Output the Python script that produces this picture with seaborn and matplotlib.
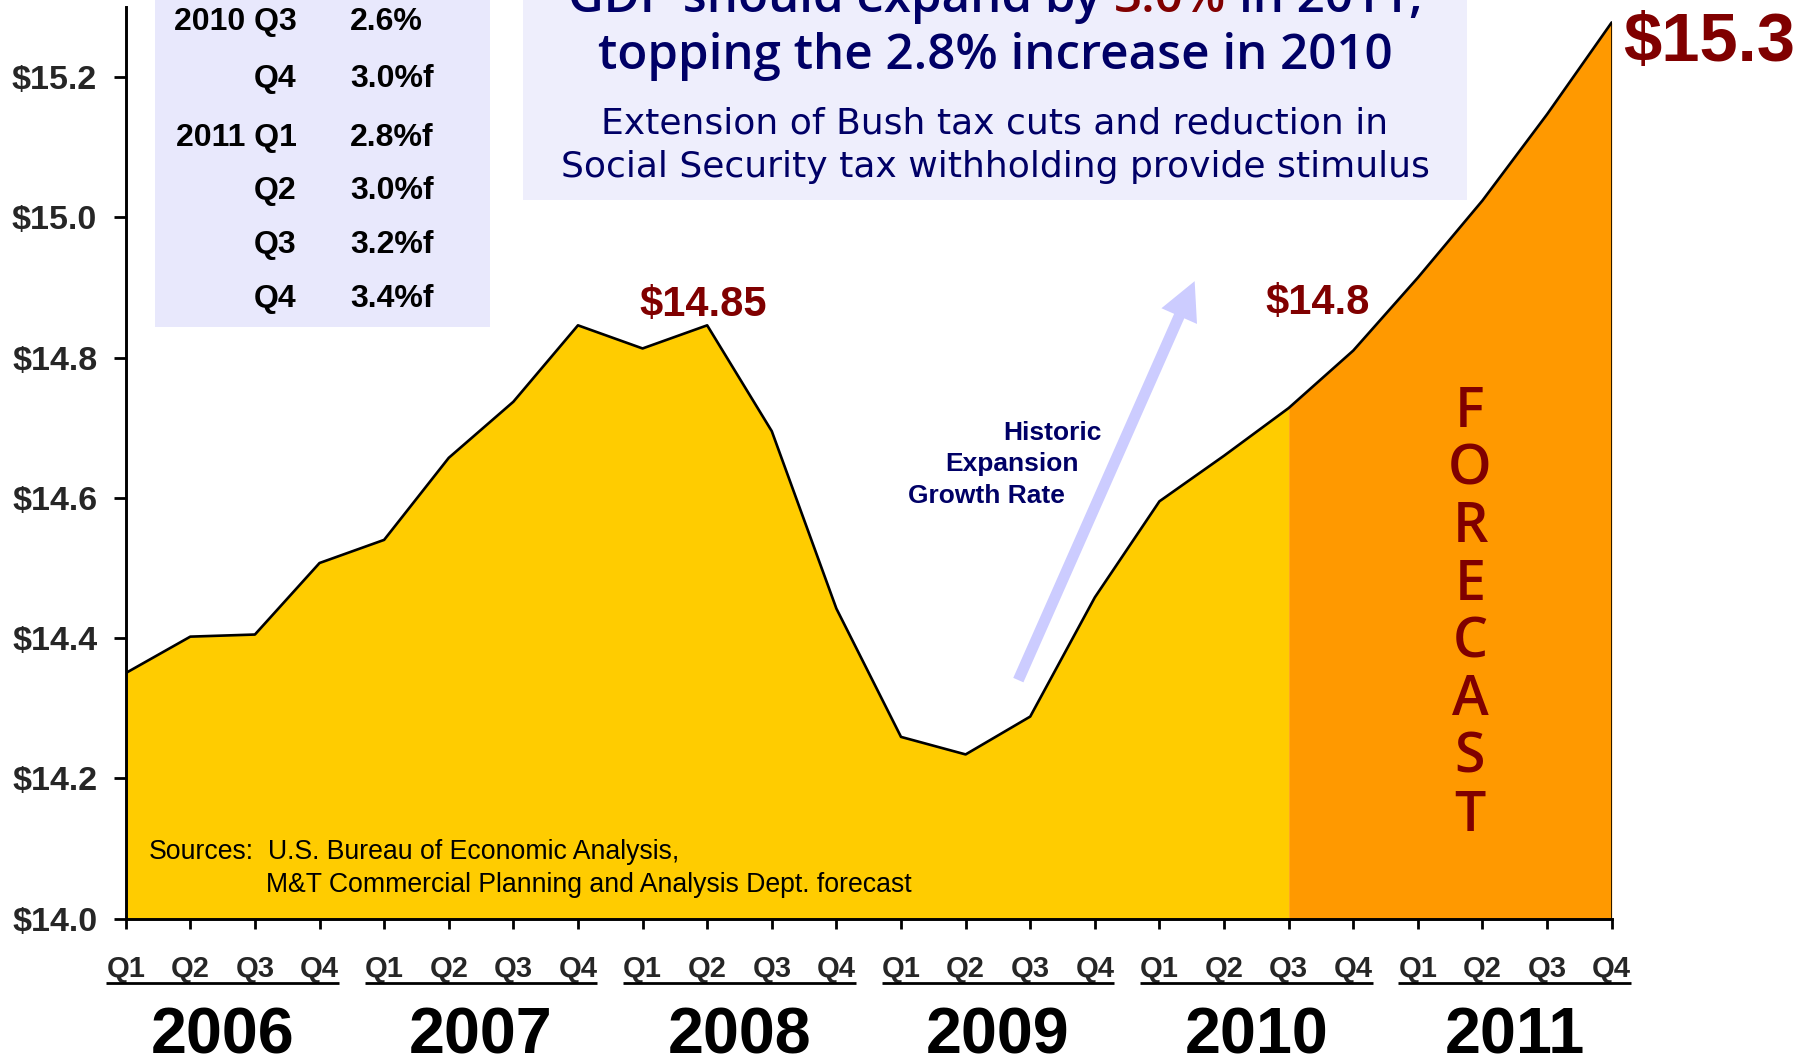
import matplotlib
matplotlib.use("Agg")
import matplotlib.pyplot as plt
from matplotlib import transforms
from matplotlib.patches import Rectangle
import numpy as np
import pandas as pd
import seaborn as sns

# ---- data -------------------------------------------------------------
years = ["2006", "2007", "2008", "2009", "2010", "2011"]
quarters = ["Q1", "Q2", "Q3", "Q4"] * len(years)
# Real GDP, trillions of dollars (2010 Q3 onward is the forecast)
gdp = [14.350, 14.402, 14.405, 14.507,
       14.540, 14.657, 14.737, 14.846,
       14.813, 14.846, 14.695, 14.442,
       14.259, 14.234, 14.288, 14.458,
       14.595, 14.660, 14.728, 14.810,
       14.914, 15.024, 15.147, 15.278]
forecast_start = 18  # 2010 Q3
y_ticks = [14.0, 14.2, 14.4, 14.6, 14.8, 15.0, 15.2]
growth_periods = ["2010 Q3", "Q4", "2011 Q1", "Q2", "Q3", "Q4"]
growth_rates = ["2.6%", "3.0%f", "2.8%f", "3.0%f", "3.2%f", "3.4%f"]
callouts = {9: "${:.2f}", 19: "${:.1f}", 23: "${:.1f}"}

# ---- style --------------------------------------------------------------
YELLOW = "#FFCC00"
ORANGE = "#FF9900"
DARKRED = "#800000"
NAVY = "#000066"
LAVENDER = "#E8E8FC"
LAVENDER2 = "#EEEEFC"
ARROW = "#CCCCFF"
HUMANIST = ["Open Sans", "DejaVu Sans"]

sns.set_theme(style="white")
plt.rcParams["font.family"] = ["Liberation Sans", "DejaVu Sans"]

W, H = 1804, 1060
fig = plt.figure(figsize=(W / 100, H / 100), dpi=100)
fig.patch.set_facecolor("white")


def fx(px):
    return px / W


def fy(py):
    return 1 - py / H


ax = fig.add_axes([fx(125.7), fy(918.5), (1611.7 - 125.7) / W, (918.5 - 7) / H])
ax.set_facecolor("none")

df = pd.DataFrame({"idx": np.arange(len(gdp)), "gdp": gdp, "quarter": quarters})

ax.set_xlim(0, len(gdp) - 1)
ax.set_ylim(14.0, 15.3)
base = ax.get_ylim()[0]

hist = df[df.idx <= forecast_start]
fcst = df[df.idx >= forecast_start]
ax.fill_between(hist.idx, base, hist.gdp, color=YELLOW, lw=0, zorder=1)
ax.fill_between(fcst.idx, base, fcst.gdp, color=ORANGE, lw=0, zorder=1)
sns.lineplot(data=df, x="idx", y="gdp", color="black", lw=1.9, ax=ax, zorder=3)
ax.vlines(df.idx.iloc[-1], base, df.gdp.iloc[-1], color="black", lw=1.9, zorder=3)

# ---- axes ---------------------------------------------------------------
for side in ["top", "right"]:
    ax.spines[side].set_visible(False)
for side in ["left", "bottom"]:
    ax.spines[side].set_color("black")
    ax.spines[side].set_linewidth(2.1)
    ax.spines[side].set_zorder(4)

ax.set_xlabel("")
ax.set_ylabel("")
ax.set_yticks(y_ticks, labels=[f"${t:.1f}" for t in y_ticks],
              fontsize=24.5, fontweight="bold")
ax.set_xticks(df.idx, labels=df.quarter, fontsize=21, fontweight="bold")
ax.tick_params(axis="y", left=True, length=9, width=2, pad=11.5,
               color="black", direction="out")
ax.tick_params(axis="x", bottom=True, length=7.5, width=2, pad=18.5,
               color="black", direction="out")
ax.grid(False)

# year groups under the quarter labels
xf = transforms.blended_transform_factory(ax.transData, fig.transFigure)
for k, yr in enumerate(years):
    q0 = 4 * k
    ax.plot([q0 - 0.3, q0 + 3.3], [fy(983.3)] * 2, transform=xf, color="black",
            lw=2.0, clip_on=False, solid_capstyle="butt")
    ax.text(q0 + 1.5, fy(1054), yr, transform=xf, ha="center", va="baseline",
            fontsize=46.5, fontweight="bold", color="black", clip_on=False)

# ---- value callouts -------------------------------------------------------
offsets = {9: ((-3, 7), "center"), 19: ((-26, 26.5), "center"), 23: ((8, -27.5), "left")}
sizes = {9: 30, 19: 30, 23: 49.5}
for i, fmt in callouts.items():
    (dx, dy), ha = offsets[i]
    ax.annotate(fmt.format(gdp[i]), xy=(i, gdp[i]), xytext=(dx, dy),
                textcoords="offset points", ha=ha, va="baseline",
                fontsize=sizes[i], fontweight="bold", color=DARKRED,
                annotation_clip=False, zorder=5)

# ---- FORECAST band label -----------------------------------------------------
for j, ch in enumerate("FORECAST"):
    fig.text(fx(1470), fy(426.7 + 57.7 * j), ch, ha="center", va="baseline",
             fontsize=40, color=DARKRED, family=HUMANIST,
             fontweight="semibold", zorder=5)

# ---- growth arrow -----------------------------------------------------------------
ax.annotate("", xy=(16.545, 14.909), xytext=(13.816, 14.340),
            arrowprops=dict(arrowstyle="simple,head_length=2.75,head_width=2.8,tail_width=0.8",
                            mutation_scale=10, color=ARROW, lw=0,
                            shrinkA=0, shrinkB=0),
            zorder=2)
for txt, xr, yb in [("Historic", 1101.5, 439.5), ("Expansion", 1078.5, 471),
                    ("Growth Rate", 1065.3, 502.6)]:
    fig.text(fx(xr), fy(yb), txt, ha="right", va="baseline", fontsize=19,
             fontweight="bold", color=NAVY, zorder=5)

# ---- sources note -----------------------------------------------------------------
fig.text(fx(148.8), fy(859.3), "Sources:", ha="left", va="baseline",
         fontsize=19.2, color="black", zorder=5)
fig.text(fx(268), fy(859.3), "U.S. Bureau of Economic Analysis,", ha="left",
         va="baseline", fontsize=19.2, color="black", zorder=5)
fig.text(fx(266.4), fy(891.7), "M&T Commercial Planning and Analysis Dept. forecast",
         ha="left", va="baseline", fontsize=19.2, color="black", zorder=5)

# ---- growth-rate table box -------------------------------------------------------
fig.add_artist(Rectangle((fx(155), fy(326.7)), fx(490) - fx(155), fy(0) - fy(326.7),
                         transform=fig.transFigure, facecolor=LAVENDER,
                         edgecolor="none", zorder=-1))
row_baselines = [30, 87.3, 145.7, 199, 253.3, 306.7]
for per, rate, yb in zip(growth_periods, growth_rates, row_baselines):
    fig.text(fx(296.6), fy(yb), per, ha="right", va="baseline", fontsize=23,
             fontweight="bold", color="black", zorder=5)
    fig.text(fx(350), fy(yb), rate, ha="left", va="baseline", fontsize=23,
             fontweight="bold", color="black", zorder=5)

# ---- headline box ----------------------------------------------------------------
fig.add_artist(Rectangle((fx(523.3), fy(200)), fx(1467) - fx(523.3), fy(0) - fy(200),
                         transform=fig.transFigure, facecolor=LAVENDER2,
                         edgecolor="none", zorder=-1))
cx = 995
head_kw = dict(fontsize=35.5, fontweight="semibold", family=HUMANIST,
               va="baseline", zorder=5)
renderer = fig.canvas.get_renderer()


def text_width(s, **kw):
    t = fig.text(0, 0, s, **kw)
    w = t.get_window_extent(renderer).width
    t.remove()
    return w


pre, hi, post = "GDP should expand by", "3.0%", "in 2011,"
full = f"{pre} {hi} {post}"
w_full = text_width(full, **head_kw)
w_pre_hi = text_width(f"{pre} {hi}", **head_kw)
left = cx - w_full / 2
fig.text(fx(left), fy(12), pre, ha="left", color=NAVY, **head_kw)
fig.text(fx(left + w_pre_hi), fy(12), hi, ha="right", color=DARKRED, **head_kw)
fig.text(fx(left + w_full), fy(12), post, ha="right", color=NAVY, **head_kw)
fig.text(fx(cx), fy(69.3), "topping the 2.8% increase in 2010", ha="center",
         color=NAVY, **head_kw)
for line, yb in [("Extension of Bush tax cuts and reduction in", 133.3),
                 ("Social Security tax withholding provide stimulus", 176.7)]:
    fig.text(fx(cx), fy(yb), line, ha="center", va="baseline", fontsize=26,
             family="DejaVu Sans", color=NAVY, zorder=5)

fig.savefig("out.png", dpi=100, facecolor="white")
